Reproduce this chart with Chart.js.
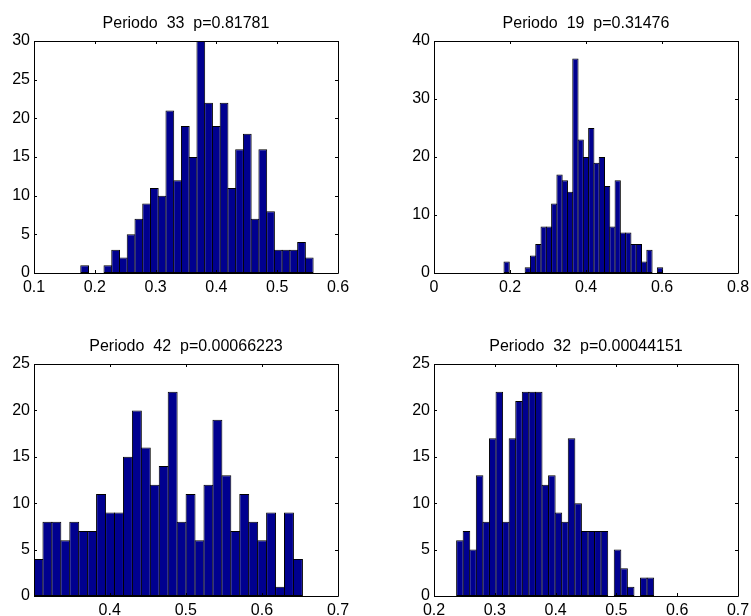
<!DOCTYPE html>
<html>
<head>
<meta charset="utf-8">
<script src="https://cdn.jsdelivr.net/npm/chart.js@4.4.1/dist/chart.umd.min.js"></script>
<style>
  body { margin: 0; background: #fff; }
  #wrap { position: relative; width: 751px; height: 616px; background: #fff; }
  canvas { position: absolute; }
</style>
</head>
<body>
<div id="wrap">
  <canvas id="c1"></canvas>
  <canvas id="c2"></canvas>
  <canvas id="c3"></canvas>
  <canvas id="c4"></canvas>
</div>
<script>
// histogram counts (30 bins each)
var titles = [
  'Periodo  33  p=0.81781',
  'Periodo  19  p=0.31476',
  'Periodo  42  p=0.00066223',
  'Periodo  32  p=0.00044151'
];
var counts1 = [1,0,0,1,3,2,5,7,9,11,10,21,12,19,15,30,22,19,22,11,16,18,7,16,8,3,3,3,4,2];
var counts2 = [2,0,0,0,1,3,5,8,8,12,17,16,14,37,23,20,25,19,20,15,8,16,7,7,5,5,2,4,0,1];
var counts3 = [4,8,8,6,8,7,7,11,9,9,15,20,16,12,14,22,8,11,6,12,19,13,7,11,8,6,9,1,9,4];
var counts4 = [6,7,5,13,8,17,22,8,17,21,22,22,22,12,13,9,8,17,10,7,7,7,7,0,5,3,1,0,2,2];

// bin range [first edge, last edge] of each histogram
var binRange1 = [0.1769, 0.5591];
var binRange2 = [0.1842, 0.6018];
var binRange3 = [0.3005, 0.6532];
var binRange4 = [0.2372, 0.5613];

// axis limits and tick labels
var xLimits = [[0.1, 0.6], [0, 0.8], [0.3005, 0.7], [0.2, 0.7]];
var xTicks1 = [0.1, 0.2, 0.3, 0.4, 0.5, 0.6];
var xTicks2 = [0, 0.2, 0.4, 0.6, 0.8];
var xTicks3 = [0.4, 0.5, 0.6, 0.7];
var xTicks4 = [0.2, 0.3, 0.4, 0.5, 0.6, 0.7];
var yMax = [30, 40, 25, 25];
var yStep = [5, 10, 5, 5];

var allCounts = [counts1, counts2, counts3, counts4];
var allRanges = [binRange1, binRange2, binRange3, binRange4];
var allXTicks = [xTicks1, xTicks2, xTicks3, xTicks4];

// panel geometry: canvas box and plot area inside it
var panels = [
  { left: 0,   top: 0,   w: 375, h: 300, area: [34, 41, 338, 273] },
  { left: 375, top: 0,   w: 376, h: 300, area: [59, 41, 363, 273] },
  { left: 0,   top: 300, w: 375, h: 316, area: [34, 64, 338, 296] },
  { left: 375, top: 300, w: 376, h: 316, area: [59, 64, 363, 296] }
];

var FONT = '"Liberation Sans", Arial, Helvetica, sans-serif';

// box around the axes with inward ticks on all four sides, plus title
var matlabAxes = {
  id: 'matlabAxes',
  afterDraw: function(chart, args, opts) {
    var ctx = chart.ctx, a = chart.chartArea;
    var xs = chart.scales.x, ys = chart.scales.y;
    var tl = 3;
    ctx.save();
    ctx.strokeStyle = '#000';
    ctx.lineWidth = 1;
    ctx.beginPath();
    ctx.rect(a.left + 0.5, a.top + 0.5, a.right - a.left, a.bottom - a.top);
    xs.ticks.forEach(function(t) {
      var px = Math.round(xs.getPixelForValue(t.value)) + 0.5;
      ctx.moveTo(px, a.bottom); ctx.lineTo(px, a.bottom - tl);
      ctx.moveTo(px, a.top); ctx.lineTo(px, a.top + tl);
    });
    ys.ticks.forEach(function(t) {
      var py = Math.round(ys.getPixelForValue(t.value)) + 0.5;
      ctx.moveTo(a.left, py); ctx.lineTo(a.left + tl, py);
      ctx.moveTo(a.right, py); ctx.lineTo(a.right - tl, py);
    });
    ctx.stroke();
    ctx.fillStyle = '#000';
    ctx.font = '16px ' + FONT;
    ctx.textAlign = 'center';
    ctx.textBaseline = 'alphabetic';
    ctx.fillText(opts.text, (a.left + a.right) / 2, a.top - 13);
    ctx.restore();
  }
};

function makeChart(i) {
  var p = panels[i];
  var cv = document.getElementById('c' + (i + 1));
  cv.width = p.w; cv.height = p.h;
  cv.style.left = p.left + 'px'; cv.style.top = p.top + 'px';

  var counts = allCounts[i], range = allRanges[i], lim = xLimits[i];
  var bw = (range[1] - range[0]) / counts.length;
  var pts = counts.map(function(c, k) {
    return { x: range[0] + (k + 0.5) * bw, y: c };
  });
  // widen bars by one pixel so neighbouring edges overlap into one line
  var binPx = bw / (lim[1] - lim[0]) * (p.area[2] - p.area[0]);
  var pct = (binPx + 1) / binPx;

  return new Chart(cv.getContext('2d'), {
    type: 'bar',
    data: {
      datasets: [{
        data: pts,
        backgroundColor: '#00008F',
        borderColor: '#000',
        borderWidth: 1,
        borderSkipped: false,
        barPercentage: pct,
        categoryPercentage: 1
      }]
    },
    options: {
      responsive: false,
      animation: false,
      layout: { padding: { left: 0, top: p.area[1], right: p.w - p.area[2], bottom: 0 } },
      plugins: {
        legend: { display: false },
        tooltip: { enabled: false },
        matlabAxes: { text: titles[i] }
      },
      scales: {
        x: {
          type: 'linear',
          offset: false,
          min: lim[0], max: lim[1],
          grid: { display: false, drawTicks: false },
          border: { display: false },
          afterBuildTicks: function(s) {
            s.ticks = allXTicks[i].map(function(v) { return { value: v }; });
          },
          afterFit: function(s) {
            s.height = p.h - p.area[3];
            s.paddingLeft = 0; s.paddingRight = 0;
          },
          ticks: {
            padding: 5,
            maxRotation: 0,
            autoSkip: false,
            color: '#000',
            font: { size: 16, family: FONT },
            callback: function(v) { return String(Math.round(v * 10) / 10); }
          }
        },
        y: {
          min: 0, max: yMax[i],
          grid: { display: false, drawTicks: false },
          border: { display: false },
          afterFit: function(s) {
            s.width = p.area[0];
            s.paddingTop = 0; s.paddingBottom = 0;
          },
          ticks: {
            stepSize: yStep[i],
            padding: 4,
            color: '#000',
            font: { size: 16, family: FONT }
          }
        }
      }
    },
    plugins: [matlabAxes]
  });
}

window.onload = function() {
  for (var i = 0; i < 4; i++) makeChart(i);
};
</script>
</body>
</html>
